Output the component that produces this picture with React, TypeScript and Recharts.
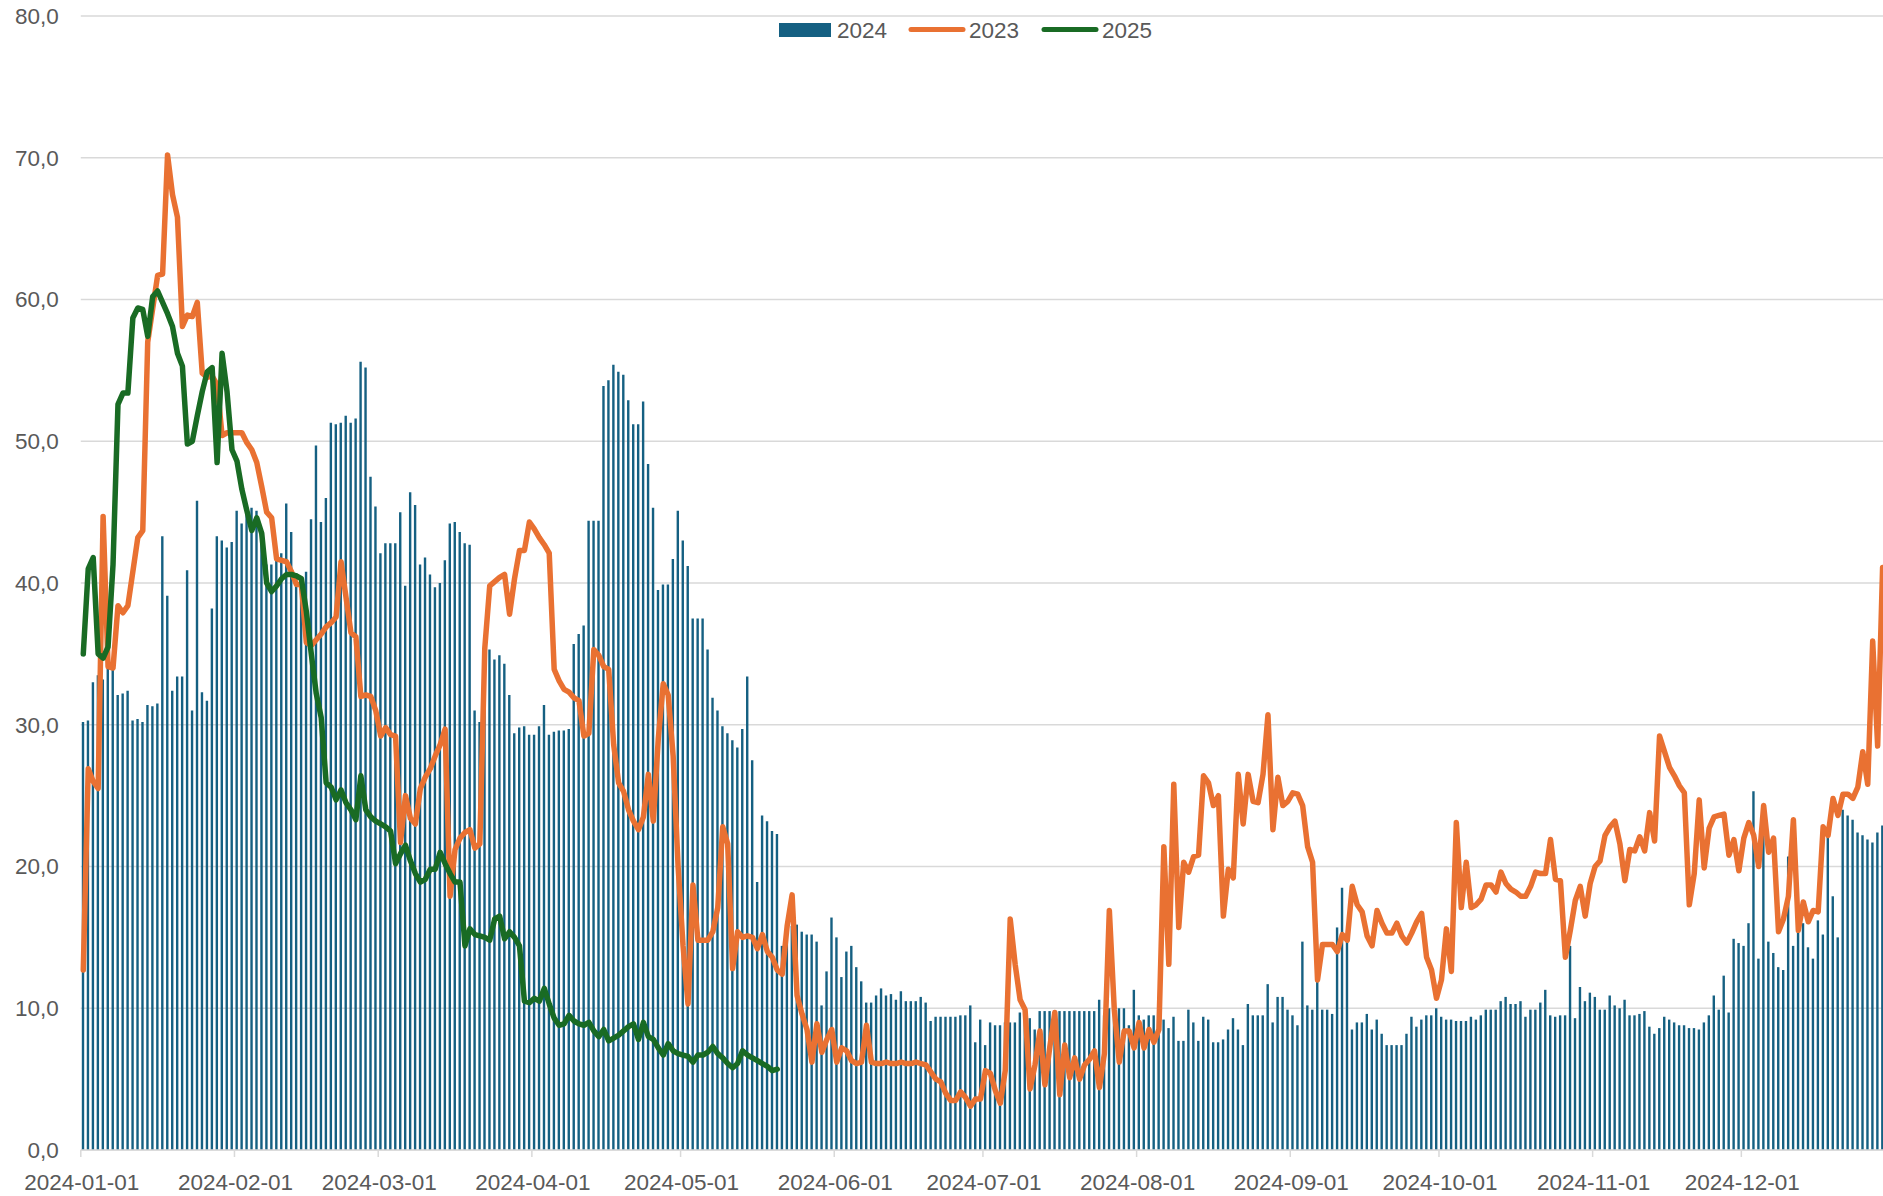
import React from 'react';
import { ComposedChart, Bar, Line, XAxis, YAxis, CartesianGrid } from 'recharts';

// ---- data ----
const START_DATE = '2024-01-01';
const DAY_COUNT = 366;

const MONTH_TICKS = [
  '2024-01-01', '2024-02-01', '2024-03-01', '2024-04-01', '2024-05-01', '2024-06-01',
  '2024-07-01', '2024-08-01', '2024-09-01', '2024-10-01', '2024-11-01', '2024-12-01',
];

const Y_TICKS = [0, 10, 20, 30, 40, 50, 60, 70, 80];

const SERIES_NAMES = ['2024', '2023', '2025'];

const BARS_2024 = [
  30.2, 30.3, 33.0, 33.5, 33.2, 34.1, 34.1, 32.1, 32.2, 32.4,
  30.3, 30.4, 30.2, 31.4, 31.3, 31.5, 43.3, 39.1, 32.4, 33.4,
  33.4, 40.9, 31.0, 45.8, 32.3, 31.7, 38.2, 43.3, 43.0, 42.5,
  42.9, 45.1, 44.2, 45.2, 45.3, 45.1, 43.3, 41.3, 41.3, 42.0,
  42.1, 45.6, 43.6, 40.7, 40.3, 40.8, 44.5, 49.7, 44.3, 46.0,
  51.3, 51.2, 51.3, 51.8, 51.3, 51.6, 55.6, 55.2, 47.5, 45.4,
  42.1, 42.8, 42.8, 42.8, 45.0, 39.8, 46.4, 45.5, 41.3, 41.8,
  40.6, 39.7, 40.0, 41.6, 44.2, 44.3, 43.6, 42.8, 42.7, 31.0,
  30.2, 35.0, 35.3, 34.6, 34.9, 34.3, 32.1, 29.4, 29.8, 29.9,
  29.3, 29.3, 29.9, 31.4, 29.3, 29.5, 29.6, 29.6, 29.7, 35.7,
  36.4, 37.0, 44.4, 44.4, 44.4, 53.9, 54.3, 55.4, 54.9, 54.7,
  52.9, 51.2, 51.2, 52.8, 48.4, 45.3, 39.5, 39.9, 39.9, 41.7,
  45.1, 43.0, 41.2, 37.5, 37.5, 37.5, 35.3, 31.9, 31.0, 29.9,
  29.4, 28.9, 28.4, 29.7, 33.4, 27.5, 18.9, 23.6, 23.2, 22.5,
  22.3, 14.4, 15.5, 15.8, 15.9, 15.4, 15.2, 15.2, 14.7, 10.2,
  12.6, 16.4, 15.0, 12.2, 14.0, 14.4, 12.9, 11.9, 10.4, 10.4,
  10.9, 11.4, 10.9, 11.0, 10.6, 11.2, 10.5, 10.5, 10.5, 10.8,
  10.4, 9.1, 9.4, 9.4, 9.4, 9.4, 9.4, 9.5, 9.5, 10.2,
  7.6, 9.2, 7.4, 9.0, 8.8, 8.8, 9.0, 9.0, 9.0, 9.7,
  9.5, 9.3, 8.5, 9.8, 9.8, 9.8, 9.8, 9.8, 9.8, 9.8,
  9.8, 9.8, 9.8, 9.8, 9.8, 10.6, 9.5, 10.0, 10.0, 10.0,
  10.0, 8.8, 11.3, 9.5, 9.2, 9.5, 9.5, 8.9, 9.2, 8.6,
  9.4, 7.7, 7.7, 9.9, 9.0, 7.7, 9.4, 9.2, 7.6, 7.6,
  7.8, 8.5, 9.3, 8.5, 7.4, 10.3, 9.5, 9.5, 9.5, 11.7,
  9.0, 10.8, 10.8, 9.9, 9.5, 8.8, 14.7, 10.2, 9.9, 12.0,
  9.9, 9.9, 9.6, 15.7, 18.5, 15.2, 8.5, 9.0, 9.0, 9.6,
  8.5, 9.2, 8.2, 7.4, 7.4, 7.4, 7.4, 8.2, 9.4, 8.7,
  9.2, 9.5, 9.5, 10.0, 9.4, 9.2, 9.2, 9.1, 9.1, 9.1,
  9.4, 9.2, 9.5, 9.9, 9.9, 9.9, 10.5, 10.8, 10.3, 10.3,
  10.5, 9.4, 9.9, 9.9, 10.4, 11.3, 9.5, 9.4, 9.5, 9.5,
  14.4, 9.3, 11.5, 10.5, 11.1, 10.8, 9.9, 9.9, 10.9, 10.2,
  10.0, 10.6, 9.5, 9.5, 9.6, 9.8, 8.7, 8.2, 8.6, 9.4,
  9.2, 9.0, 8.8, 8.8, 8.6, 8.6, 8.5, 9.0, 9.5, 10.9,
  9.9, 12.3, 9.7, 14.9, 14.6, 14.4, 16.0, 25.3, 13.5, 22.2,
  14.7, 13.9, 12.9, 12.7, 20.7, 14.4, 16.0, 16.0, 14.3, 13.5,
  16.2, 15.2, 22.8, 17.9, 15.0, 24.0, 23.6, 23.3, 22.4, 22.2,
  21.9, 21.7, 22.4, 22.9,
];

const LINE_2023 = [
  12.7, 26.9, 26.0, 25.5, 44.7, 34.1, 34.0, 38.4, 37.9, 38.4,
  null, 43.2, 43.7, 57.0, null, 61.7, 61.8, 70.2, 67.4, 65.8,
  58.1, 58.9, 58.8, 59.8, 54.8, 54.5, 54.6, 54.0, 50.4, 50.6,
  50.6, 50.6, 50.6, 49.9, 49.4, 48.5, 46.8, 45.0, 44.6, 41.7,
  41.6, 41.5, 40.8, 39.9, 39.9, 35.8, 35.6, 36.0, 36.4, 36.9,
  37.2, 37.6, 41.5, 39.0, 36.5, 36.2, 32.0, 32.1, 32.0, 31.0,
  29.2, 29.8, 29.3, 29.2, 21.7, 25.0, 23.4, 23.0, 25.5, 26.3,
  26.9, 27.8, 28.6, 29.7, 17.9, 21.2, 22.0, 22.4, 22.6, 21.3,
  21.6, 35.4, 39.8, 40.1, 40.4, 40.6, 37.8, 40.3, 42.3, 42.3,
  44.3, 43.8, 43.2, 42.7, 42.1, 33.9, 33.1, 32.5, 32.3, 31.9,
  31.7, 29.2, 29.4, 35.3, 34.9, 34.1, 33.9, 28.6, 25.9, 25.3,
  24.0, 23.2, 22.6, 23.5, 26.5, 23.2, 29.0, 32.9, 32.1, 27.8,
  20.0, 14.4, 10.3, 18.7, 14.8, 14.8, 14.8, 15.4, 17.1, 22.8,
  21.6, 12.8, 15.4, 15.0, 15.1, 15.0, 14.2, 15.2, 14.0, 13.6,
  12.7, 12.4, 15.8, 18.0, 10.9, 9.6, 8.5, 6.2, 8.9, 6.9,
  7.8, 8.5, 6.2, 7.2, 7.0, 6.3, 6.1, 6.2, 8.8, 6.2,
  6.1, 6.1, 6.2, 6.1, 6.1, 6.2, 6.1, 6.1, 6.2, 6.1,
  6.0, 5.5, 5.0, 4.8, 4.0, 3.5, 3.5, 4.1, 3.7, 3.1,
  3.6, 3.6, 5.6, 5.4, 4.2, 3.3, 5.6, 16.3, 13.1, 10.6,
  9.9, 4.3, 6.0, 8.4, 4.6, 7.3, 9.7, 3.9, 7.4, 5.1,
  6.5, 5.0, 6.0, 6.4, 7.0, 4.4, 6.8, 16.9, 9.9, 6.2,
  8.4, 8.4, 7.2, 9.0, 7.2, 8.5, 7.6, 8.5, 21.4, 13.1,
  25.8, 15.7, 20.3, 19.6, 20.7, 20.8, 26.4, 25.9, 24.3, 25.0,
  16.5, 19.8, 19.2, 26.5, 23.0, 26.5, 24.6, 24.5, 26.5, 30.7,
  22.6, 26.3, 24.3, 24.6, 25.2, 25.1, 24.3, 21.4, 20.3, 12.0,
  14.5, 14.5, 14.5, 14.0, 15.2, 14.8, 18.6, 17.3, 16.8, 15.1,
  14.4, 16.9, 16.0, 15.3, 15.3, 16.0, 15.1, 14.6, 15.3, 16.1,
  16.7, 13.6, 12.7, 10.7, 12.0, 15.6, 12.6, 23.1, 17.1, 20.3,
  17.1, 17.3, 17.7, 18.7, 18.7, 18.2, 19.6, 18.8, 18.4, 18.2,
  17.9, 17.9, 18.6, 19.6, 19.5, 19.5, 21.9, 19.1, 19.0, 13.6,
  15.5, 17.6, 18.6, 16.5, 18.8, 20.0, 20.4, 22.2, 22.8, 23.2,
  21.6, 19.0, 21.2, 21.1, 22.1, 21.1, 23.8, 21.8, 29.2, 28.1,
  27.0, 26.4, 25.7, 25.2, 17.3, 19.5, 24.7, 19.9, 22.7, 23.5,
  23.6, 23.7, 20.8, 21.9, 19.7, 22.0, 23.1, 22.2, 20.0, 24.3,
  21.0, 22.0, 15.4, 16.3, 17.9, 23.3, 15.5, 17.5, 16.1, 16.9,
  16.8, 22.8, 22.2, 24.8, 23.6, 25.1, 25.1, 24.8, 25.6, 28.1,
  25.8, 35.9, 28.5, 41.1,
];

const LINE_2025 = [
  35.0, 41.0, 41.8, 35.0, 34.7, 35.5, 41.3, 52.6, 53.4, 53.4,
  58.7, 59.4, 59.3, 57.4, 60.2, 60.6, 59.8, 59.0, 58.1, 56.2,
  55.3, 49.8, 50.0, 51.8, 53.5, 54.9, 55.2, 48.5, 56.2, 53.5,
  49.4, 48.6, 46.6, 45.1, 43.7, 44.6, 43.5, 40.0, 39.4, 39.8,
  40.3, 40.6, 40.6, 40.5, 40.3, 38.0, 35.0, 32.2, 30.5, 25.9,
  25.6, 24.7, 25.4, 24.5, 24.0, 23.3, 26.4, 24.0, 23.5, 23.2,
  23.0, 22.8, 22.5, 20.2, 20.9, 21.5, 20.4, 19.5, 18.9, 19.1,
  19.8, 19.8, 21.0, 20.2, 19.5, 18.9, 18.9, 14.4, 15.6, 15.2,
  15.1, 15.0, 14.8, 16.3, 16.5, 14.9, 15.4, 15.0, 14.4, 10.5,
  10.4, 10.7, 10.5, 11.4, 10.3, 9.3, 8.8, 8.9, 9.5, 9.1,
  8.9, 8.8, 9.0, 8.4, 8.0, 8.5, 7.7, 7.9, 8.1, 8.4,
  8.7, 8.9, 7.8, 9.0, 8.0, 7.8, 7.2, 6.7, 7.5, 7.0,
  6.8, 6.7, 6.6, 6.2, 6.7, 6.7, 6.9, 7.3, 6.8, 6.5,
  6.1, 5.8, 6.1, 7.0, 6.7, 6.5, 6.3, 6.1, 5.9, 5.6,
  5.7,
];

// ---- colours / layout ----
const C_2024 = '#156082';
const C_2023 = '#E97132';
const C_2025 = '#196B24';
const TEXT = '#595959';
const GRID = '#D9D9D9';
const FONT = '"Liberation Sans", Arial, sans-serif';
const FONT_SIZE = 22.5;
const LINE_W = 5.5;

const CHART_W = 1895;
const CHART_H = 1196;
const PLOT_LEFT = 80.8;
const HALF_BAND = (CHART_W - PLOT_LEFT) / DAY_COUNT / 2;

const startMs = Date.parse(START_DATE + 'T00:00:00Z');
const DATES = Array.from({ length: DAY_COUNT }, (_, i) =>
  new Date(startMs + i * 86400000).toISOString().slice(0, 10)
);

const data = DATES.map((date, i) => ({
  date,
  s2024: i < BARS_2024.length ? BARS_2024[i] : null,
  s2023: i < LINE_2023.length ? LINE_2023[i] : null,
  s2025: i < LINE_2025.length ? LINE_2025[i] : null,
}));

const XTick = (props: any) => {
  const { x, y, payload } = props;
  const xs = x - HALF_BAND;
  return (
    <g>
      <line x1={xs} x2={xs} y1={y} y2={y + 7} stroke={GRID} strokeWidth={1.5} />
      <text
        x={xs + 1}
        y={y + 40}
        textAnchor="middle"
        fill={TEXT}
        fontSize={FONT_SIZE}
        fontFamily={FONT}
      >
        {payload.value}
      </text>
    </g>
  );
};

const LegendOverlay = () => (
  <svg
    width={1883}
    height={50}
    style={{ position: 'absolute', left: 0, top: 0, pointerEvents: 'none' }}
  >
    <rect x={779} y={23} width={52} height={14} fill={C_2024} />
    <text x={837} y={37.5} fill={TEXT} fontSize={FONT_SIZE} fontFamily={FONT}>
      {SERIES_NAMES[0]}
    </text>
    <line x1={911} x2={963} y1={29.5} y2={29.5} stroke={C_2023} strokeWidth={5} strokeLinecap="round" />
    <text x={969} y={37.5} fill={TEXT} fontSize={FONT_SIZE} fontFamily={FONT}>
      {SERIES_NAMES[1]}
    </text>
    <line x1={1044} x2={1096} y1={29.5} y2={29.5} stroke={C_2025} strokeWidth={5} strokeLinecap="round" />
    <text x={1102} y={37.5} fill={TEXT} fontSize={FONT_SIZE} fontFamily={FONT}>
      {SERIES_NAMES[2]}
    </text>
  </svg>
);

export default function App() {
  return (
    <div
      style={{
        position: 'fixed',
        left: 0,
        top: 0,
        width: 1883,
        height: 1196,
        overflow: 'hidden',
        background: '#ffffff',
      }}
    >
      <ComposedChart
        width={CHART_W}
        height={CHART_H}
        data={data}
        margin={{ top: 16, right: 0, bottom: 0, left: PLOT_LEFT - 70 }}
      >
        <CartesianGrid vertical={false} stroke={GRID} strokeWidth={1.3} />
        <XAxis
          dataKey="date"
          type="category"
          ticks={MONTH_TICKS}
          interval={0}
          tick={<XTick />}
          tickLine={false}
          tickSize={0}
          tickMargin={0}
          axisLine={{ stroke: GRID, strokeWidth: 1.3 }}
          height={46}
        />
        <YAxis
          domain={[0, 80]}
          ticks={Y_TICKS}
          interval={0}
          width={70}
          axisLine={false}
          tickLine={false}
          tickSize={0}
          tickMargin={22}
          tick={{ fill: TEXT, fontSize: FONT_SIZE, fontFamily: FONT }}
          tickFormatter={(v: number) => v.toFixed(1).replace('.', ',')}
        />
        <Bar dataKey="s2024" name={SERIES_NAMES[0]} fill={C_2024} barSize={2.4} isAnimationActive={false} />
        <Line
          dataKey="s2023"
          name={SERIES_NAMES[1]}
          type="linear"
          stroke={C_2023}
          strokeWidth={LINE_W}
          strokeLinejoin="round"
          strokeLinecap="round"
          dot={false}
          activeDot={false}
          connectNulls
          isAnimationActive={false}
        />
        <Line
          dataKey="s2025"
          name={SERIES_NAMES[2]}
          type="linear"
          stroke={C_2025}
          strokeWidth={LINE_W}
          strokeLinejoin="round"
          strokeLinecap="round"
          dot={false}
          activeDot={false}
          isAnimationActive={false}
        />
      </ComposedChart>
      <LegendOverlay />
    </div>
  );
}
